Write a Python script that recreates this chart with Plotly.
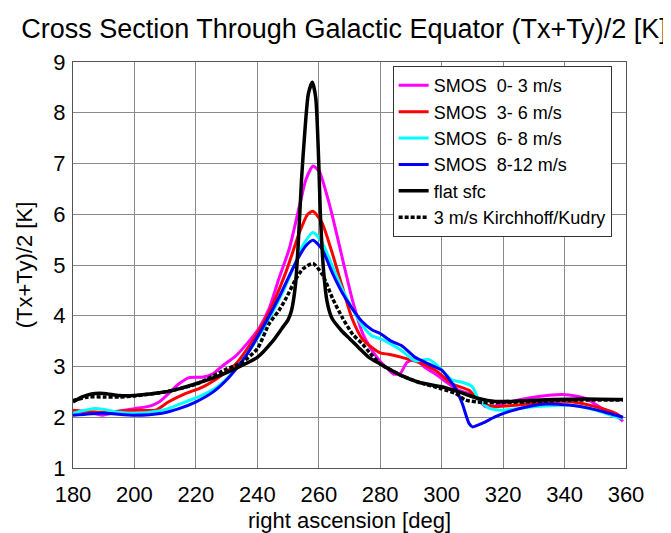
import plotly.graph_objects as go

# ---- data ----
ra_smos03 = [180, 185, 189.5, 195, 200, 205, 208, 211, 214.5, 217.8, 222, 225.4, 228.6, 233, 237.3, 240.6,
             243.9, 247, 250.4, 253.7, 255.8, 258.1, 260.2, 262.3, 264.5, 267.8, 271, 274.3, 276.5, 280,
             282.7, 284.3, 286.5, 288.7, 291.4, 294.6, 298, 302.3, 305.6, 308.9, 312.1, 314.3, 316.5, 319.7,
             325, 330.5, 336, 341.4, 346.8, 352, 356.5, 359]
tb_smos03 = [2.12, 2.10, 2.04, 2.12, 2.17, 2.22, 2.30, 2.46, 2.66, 2.78, 2.79, 2.85, 3.01, 3.21, 3.50, 3.76,
             4.15, 4.73, 5.32, 6.16, 6.68, 6.95, 6.84, 6.45, 5.95, 5.10, 4.30, 3.65, 3.40, 3.10,
             2.94, 2.85, 2.86, 3.08, 3.14, 2.98, 2.85, 2.66, 2.53, 2.47, 2.34, 2.21, 2.21, 2.27,
             2.34, 2.40, 2.44, 2.44, 2.37, 2.18, 2.05, 1.92]

ra_smos36 = [180, 189.5, 200, 206.9, 211, 216.4, 222, 227.5, 233, 238.4, 243.9, 249.3, 253.7, 256.4, 258.1,
             261, 264.3, 267.5, 270.8, 274, 277.4, 280, 282.7, 287, 292.5, 298, 303.4, 308.9, 313.2, 317.5,
             325, 336, 341.4, 350, 356.5, 359]
tb_smos36 = [2.14, 2.10, 2.14, 2.14, 2.30, 2.46, 2.59, 2.79, 3.05, 3.50, 4.08, 4.86, 5.64, 6.00, 6.06,
             5.84, 5.25, 4.60, 3.95, 3.56, 3.37, 3.27, 3.24, 3.18, 3.08, 2.92, 2.66, 2.53, 2.27, 2.21,
             2.24, 2.31, 2.31, 2.21, 2.08, 1.98]

ra_smos68 = [180, 187.3, 195, 200, 205, 211, 216.4, 222, 227.5, 233, 238.4, 243.9, 249.3, 254.8, 258.1,
             261, 264.3, 267.5, 270.8, 274, 277.4, 280, 283.6, 287, 291.4, 295.7, 298, 300.2, 303.4, 306.7,
             310, 312.1, 315.4, 319.7, 330.5, 341.4, 350, 356.5, 359]
tb_smos68 = [2.08, 2.17, 2.10, 2.08, 2.10, 2.17, 2.30, 2.43, 2.62, 2.95, 3.40, 3.95, 4.60, 5.38, 5.64,
             5.45, 5.00, 4.54, 4.15, 3.82, 3.60, 3.55, 3.44, 3.31, 3.11, 3.14, 3.05, 2.92, 2.73, 2.69,
             2.60, 2.34, 2.18, 2.14, 2.21, 2.24, 2.14, 2.01, 1.98]

ra_smos812 = [180, 189.5, 200, 209, 214.5, 219.9, 225.4, 230.8, 236.3, 241.7, 247.2, 252.6, 255.8, 258.1,
              261, 264.3, 267.5, 270.8, 274, 277.4, 280, 283.6, 287, 291.4, 295.7, 300.2, 302.3, 304.6,
              306.7, 308.9, 310.1, 313.2, 317.5, 321.8, 328.3, 333.8, 341.4, 347.9, 354.4, 359]
tb_smos812 = [2.04, 2.08, 2.04, 2.08, 2.17, 2.30, 2.49, 2.79, 3.21, 3.76, 4.38, 5.06, 5.38, 5.49,
              5.32, 4.86, 4.47, 4.15, 3.89, 3.72, 3.65, 3.50, 3.41, 3.18, 3.05, 2.92, 2.76, 2.56,
              2.27, 1.88, 1.81, 1.88, 2.01, 2.11, 2.21, 2.26, 2.24, 2.18, 2.08, 2.00]

ra_flat = [180, 183, 186, 190, 195, 200, 205, 210, 215, 220, 225, 230, 235, 240, 245, 248, 250, 251.1,
           252.4, 253.3, 254.4, 255.5, 256.6, 257.9, 259, 260, 260.5, 261.6, 262.7, 264.3, 267.5, 270,
           273, 276.3, 280, 287, 292.5, 300, 305.6, 312, 317.5, 325, 336, 346.8, 359]
tb_flat = [2.30, 2.40, 2.46, 2.47, 2.43, 2.43, 2.46, 2.50, 2.57, 2.66, 2.76, 2.88, 3.02, 3.18, 3.50, 3.75,
           3.92, 4.10, 4.60, 5.40, 6.70, 7.66, 8.37, 8.60, 8.30, 7.00, 6.03, 4.86, 4.28, 3.95, 3.70, 3.55,
           3.37, 3.18, 3.05, 2.82, 2.69, 2.60, 2.50, 2.37, 2.31, 2.32, 2.35, 2.36, 2.35]

ra_kk = [180, 185, 190, 195, 200, 210, 220, 230, 235, 240, 243.9, 247, 249.3, 252.6, 254.8, 258.1, 261.3,
         264.5, 267.8, 271.1, 274.3, 276.5, 280, 287, 292.5, 300, 304.5, 307.7, 313.2, 319.7, 330.5,
         341.4, 359]
tb_kk = [2.33, 2.40, 2.40, 2.40, 2.42, 2.50, 2.65, 2.95, 3.08, 3.35, 3.85, 4.10, 4.34, 4.73, 4.92, 5.03,
         4.80, 4.34, 3.95, 3.63, 3.44, 3.28, 3.05, 2.82, 2.69, 2.56, 2.47, 2.34, 2.29, 2.29, 2.31,
         2.34, 2.34]

x_ticks = [180, 200, 220, 240, 260, 280, 300, 320, 340, 360]
y_ticks = [1, 2, 3, 4, 5, 6, 7, 8, 9]

FONT = "Liberation Sans, Arial, Helvetica, sans-serif"

series = [
    ("SMOS  0- 3 m/s", ra_smos03, tb_smos03, "#ff00ff", "solid", 3),
    ("SMOS  3- 6 m/s", ra_smos36, tb_smos36, "#ff0000", "solid", 3),
    ("SMOS  6- 8 m/s", ra_smos68, tb_smos68, "#00ffff", "solid", 3),
    ("SMOS  8-12 m/s", ra_smos812, tb_smos812, "#0000ff", "solid", 3),
    ("flat sfc", ra_flat, tb_flat, "#000000", "solid", 3.5),
    ("3 m/s Kirchhoff/Kudry", ra_kk, tb_kk, "#000000", "4px,2px", 3.5),
]

fig = go.Figure()
for name, xs, ys, col, dash, w in series:
    fig.add_trace(go.Scatter(
        x=xs, y=ys, name=name, mode="lines",
        line=dict(color=col, width=w, dash=dash, shape="spline", smoothing=0.6),
    ))

axis_common = dict(
    showgrid=True, gridcolor="#8a8a8a", gridwidth=1,
    showline=True, linecolor="#555555", linewidth=1, mirror=True,
    ticks="", zeroline=False,
    tickfont=dict(family=FONT, size=22, color="black"),
)

fig.update_layout(
    width=671, height=533,
    margin=dict(l=65, r=53, t=54, b=68),
    paper_bgcolor="white", plot_bgcolor="white",
    font=dict(family=FONT, color="black"),
    title=dict(
        text="Cross Section Through Galactic Equator (Tx+Ty)/2 [K]",
        font=dict(family=FONT, size=27, color="black"),
        x=336 / 671, xref="container", xanchor="center",
        y=1 - 21 / 533, yref="container", yanchor="middle",
    ),
    xaxis=dict(
        range=[180, 360], tickmode="array", tickvals=x_ticks,
        ticktext=[str(v) for v in x_ticks],
        title=dict(text="right ascension [deg]", font=dict(family=FONT, size=22), standoff=6),
        ticklabelstandoff=7,
        **axis_common,
    ),
    yaxis=dict(
        range=[1, 9], tickmode="array", tickvals=y_ticks,
        ticktext=[str(v) for v in y_ticks],
        title=dict(text="(Tx+Ty)/2 [K]", font=dict(family=FONT, size=22), standoff=14),
        ticklabelstandoff=2,
        **axis_common,
    ),
    legend=dict(
        x=0.578, y=0.99, xanchor="left", yanchor="top",
        bgcolor="white", bordercolor="#333333", borderwidth=1,
        font=dict(family=FONT, size=18, color="black"),
        tracegroupgap=0,
    ),
    showlegend=True,
)

fig.write_html("out.html")
